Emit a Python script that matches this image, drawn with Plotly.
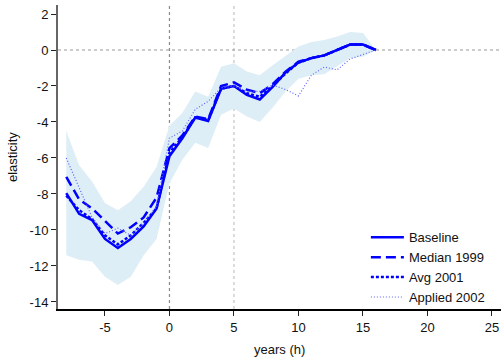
import plotly.graph_objects as go

horizon = list(range(-8, 17))

baseline = [-7.95, -9.1, -9.45, -10.5, -11.0, -10.5, -9.8, -8.8, -5.9, -4.9, -3.75, -3.95, -2.15, -2.0,
            -2.5, -2.75, -2.05, -1.25, -0.7, -0.45, -0.3, 0.0, 0.3, 0.3, 0.0]
median_1999 = [-7.05, -8.3, -8.8, -9.5, -10.2, -9.85, -9.3, -8.2, -5.45, -4.75, -3.7, -3.85, -2.0, -1.8,
               -2.2, -2.4, -1.9, -1.2, -0.65, -0.45, -0.3, 0.0, 0.3, 0.3, 0.0]
avg_2001 = [-8.1, -8.9, -9.4, -10.3, -10.8, -10.3, -9.6, -8.8, -5.7, -4.85, -3.75, -3.9, -2.15, -2.0,
            -2.4, -2.6, -2.0, -1.3, -0.7, -0.45, -0.3, 0.0, 0.3, 0.3, 0.0]
applied_2002 = [-6.0, -7.6, -9.3, -10.2, -9.9, -10.3, -9.6, -8.7, -4.9, -4.5, -3.3, -2.85, -2.1, -2.0,
                -2.3, -2.3, -1.95, -2.2, -2.55, -1.4, -0.95, -1.1, -0.5, -0.25, 0.0]
ci_upper = [-4.5, -6.4, -7.3, -8.5, -8.9, -8.4, -7.6, -6.5, -4.2, -3.5, -2.3, -2.6, -0.93, -0.74,
            -1.2, -1.4, -0.85, -0.3, 0.2, 0.45, 0.55, 0.75, 1.0, 0.95, 0.0]
ci_lower = [-11.4, -11.65, -11.75, -12.6, -13.05, -12.6, -11.4, -10.5, -7.4, -6.1, -5.15, -5.45, -3.6, -3.25,
            -3.7, -4.0, -3.2, -2.3, -1.6, -1.4, -1.35, -0.9, -0.46, -0.37, 0.0]

x_ticks = [-5, 0, 5, 10, 15, 20, 25]
x_labels = ["-5", "0", "5", "10", "15", "20", "25"]
y_ticks = [-14, -12, -10, -8, -6, -4, -2, 0, 2]
y_labels = ["-14", "-12", "-10", "-8", "-6", "-4", "-2", "0", "2"]
ref_x = [0, 5]
ref_x_colors = ["#8a8a8a", "#c4c4c4"]
ref_y = [0]

BLUE = "#0000ff"
FONT = "Liberation Sans, Arial, sans-serif"

fig = go.Figure()

# confidence band
fig.add_trace(go.Scatter(x=horizon, y=ci_upper, mode="lines", line=dict(width=0),
                         hoverinfo="skip", showlegend=False))
fig.add_trace(go.Scatter(x=horizon, y=ci_lower, mode="lines", line=dict(width=0),
                         fill="tonexty", fillcolor="rgb(222,238,246)",
                         hoverinfo="skip", showlegend=False))

fig.add_trace(go.Scatter(x=horizon, y=baseline, mode="lines", name="Baseline",
                         line=dict(color=BLUE, width=2.5)))
fig.add_trace(go.Scatter(x=horizon, y=median_1999, mode="lines", name="Median 1999",
                         line=dict(color=BLUE, width=2.5, dash="10px,5px")))
fig.add_trace(go.Scatter(x=horizon, y=avg_2001, mode="lines", name="Avg 2001",
                         line=dict(color=BLUE, width=2.5, dash="3px,2px")))
fig.add_trace(go.Scatter(x=horizon, y=applied_2002, mode="lines", name="Applied 2002",
                         line=dict(color="rgb(100,100,255)", width=1.2, dash="1px,2px")))

shapes = []
for xv, c in zip(ref_x, ref_x_colors):
    shapes.append(dict(type="line", xref="x", yref="paper", x0=xv, x1=xv, y0=0, y1=1,
                       line=dict(color=c, width=1.2, dash="dot"), layer="below"))
for yv in ref_y:
    shapes.append(dict(type="line", xref="paper", yref="y", x0=0, x1=1, y0=yv, y1=yv,
                       line=dict(color="#9a9a9a", width=1.2, dash="dot"), layer="below"))

annotations = [
    dict(text="years (h)", xref="paper", yref="paper", x=0.5, y=0, yshift=-40,
         xanchor="center", yanchor="middle", showarrow=False,
         font=dict(family=FONT, size=13, color="#111")),
    dict(text="elasticity", xref="paper", yref="paper", x=0, y=0.5, xshift=-46,
         xanchor="center", yanchor="middle", textangle=-90, showarrow=False,
         font=dict(family=FONT, size=13, color="#111")),
]

fig.update_layout(
    width=501, height=357,
    margin=dict(l=58, r=0, t=5, b=48, autoexpand=False),
    paper_bgcolor="white", plot_bgcolor="white",
    font=dict(family=FONT, size=13, color="#111"),
    shapes=shapes,
    annotations=annotations,
    legend=dict(x=0.695, xanchor="left", y=0.285, yanchor="top",
                traceorder="normal",
                bgcolor="rgba(0,0,0,0)", itemwidth=33,
                font=dict(family=FONT, size=13, color="#111")),
    xaxis=dict(range=[-8.64, 25.7], tickvals=x_ticks, ticktext=x_labels, ticks="outside", ticklen=5,
               tickcolor="#222", showgrid=False, zeroline=False, showline=True,
               linecolor="black", linewidth=2, automargin=False),
    yaxis=dict(range=[-14.39, 2.5], tickvals=y_ticks, ticktext=y_labels, ticks="outside", ticklen=5,
               tickcolor="#222", showgrid=False, zeroline=False, showline=True,
               linecolor="#666", linewidth=2, automargin=False),
)

fig.write_html("out.html", config={"displayModeBar": False},
               post_script="document.body.style.margin='0';document.body.style.overflow='hidden';")
